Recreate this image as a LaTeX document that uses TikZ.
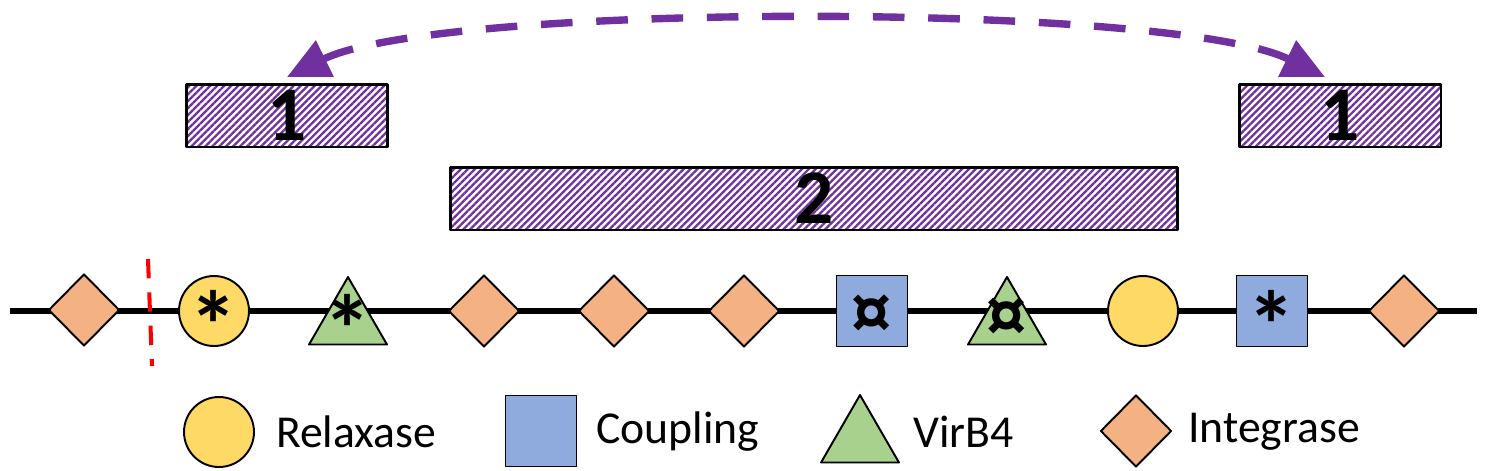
\documentclass[tikz,border=0pt]{standalone}
\usepackage{fontspec}
\setmainfont{Carlito}
\usetikzlibrary{shapes.geometric,patterns.meta,arrows.meta}

\definecolor{relax}{HTML}{FFD966}
\definecolor{coupl}{HTML}{8FAADC}
\definecolor{virb}{HTML}{A9D18E}
\definecolor{integ}{HTML}{F4B183}
\definecolor{arcpurple}{HTML}{7030A0}

\begin{document}
\begin{tikzpicture}[
    x=0.02cm,
    y=-0.02cm,
    line join=round,
    gene/.style={
        draw=black,
        line width=1.1pt,
        inner sep=0pt
    },
    relaxase/.style={
        gene,
        circle,
        fill=relax,
        minimum size=1.4cm
    },
    coupling/.style={
        gene,
        rectangle,
        fill=coupl,
        minimum size=1.42cm
    },
    virbfour/.style={
        gene,
        regular polygon,
        regular polygon sides=3,
        fill=virb,
        minimum size=1.80cm
    },
    integrase/.style={
        gene,
        diamond,
        fill=integ,
        minimum width=1.42cm,
        minimum height=1.44cm
    },
    symstar/.style={
        inner sep=0pt,
        yshift=-8pt,
        font=\fontsize{55}{55}\selectfont\bfseries
    },
    symcur/.style={
        inner sep=0pt,
        yshift=-3pt,
        font=\fontsize{46}{46}\selectfont\bfseries
    },
    region/.style={
        draw=black,
        line width=1.7pt,
        pattern={Lines[angle=45,distance=2.8pt,line width=1.3pt]},
        pattern color=arcpurple,
        inner sep=0pt,
        font=\fontsize{44}{44}\selectfont\bfseries
    },
    legend/.style={
        anchor=west,
        font=\fontsize{26}{26}\selectfont
    }
]

\useasboundingbox (0,0) rectangle (1491,470);

% =================================================
% Хромосома
% =================================================

\coordinate (L) at (10,311);
\coordinate (R) at (1477,311);
\draw[line width=3.4pt] (L) -- (R);

% граница
\coordinate (cut1) at (148,259);
\coordinate (cut2) at (152,366);
\draw[red, line width=2.3pt, dash pattern=on 11pt off 8pt] (cut1) -- (cut2);

% =================================================
% Гены
% =================================================

\node[integrase] (i1) at (84,310)  {};
\node[relaxase]  (r1) at (214,311) {};
\node[virbfour]  (v1) at (348,322) {};
\node[integrase] (i2) at (484,311) {};
\node[integrase] (i3) at (614,311) {};
\node[integrase] (i4) at (744,311) {};
\node[coupling]  (c1) at (872,311) {};
\node[virbfour]  (v2) at (1007,322) {};
\node[relaxase]  (r2) at (1143,311) {};
\node[coupling]  (c2) at (1272,311) {};
\node[integrase] (i5) at (1404,311) {};

% метки генов
\node[symstar] (r1s) at (214,311)  {*};
\node[symstar] (v1s) at (348,315)  {*};
\node[symcur]  (c1s) at (872,311)  {¤};
\node[symcur]  (v2s) at (1007,314) {¤};
\node[symstar] (c2s) at (1272,311) {*};

% =================================================
% Области
% =================================================

\node[region, minimum width=4.04cm, minimum height=1.26cm] (a1) at (287,115.5) {1};
\node[region, minimum width=4.04cm, minimum height=1.26cm] (a2) at (1340,115.5) {1};
\node[region, minimum width=14.56cm, minimum height=1.26cm] (b) at (814,198.5) {2};

% =================================================
% Перенос
% =================================================

\coordinate (t1) at (287,77);
\coordinate (t2) at (1325,77);
\draw[arcpurple, line width=4.2pt, dash pattern=on 18pt off 13.5pt,
      {Triangle[length=24pt,width=22pt]}-{Triangle[length=24pt,width=22pt]}]
    (t1) .. controls (440,2) and (1172,2) .. (t2);

% =================================================
% Легенда
% =================================================

\node[relaxase]  (lr) at (219,432) {};
\node[legend] (lrt) at (270,432) {Relaxase};
\node[coupling]  (lc) at (541,431) {};
\node[legend] (lct) at (590,432) {Coupling};
\node[virbfour]  (lv) at (860,440) {};
\node[legend] (lvt) at (907,432) {VirB4};
\node[integrase] (li) at (1136,431) {};
\node[legend] (lit) at (1182,432) {Integrase};

\end{tikzpicture}
\end{document}
